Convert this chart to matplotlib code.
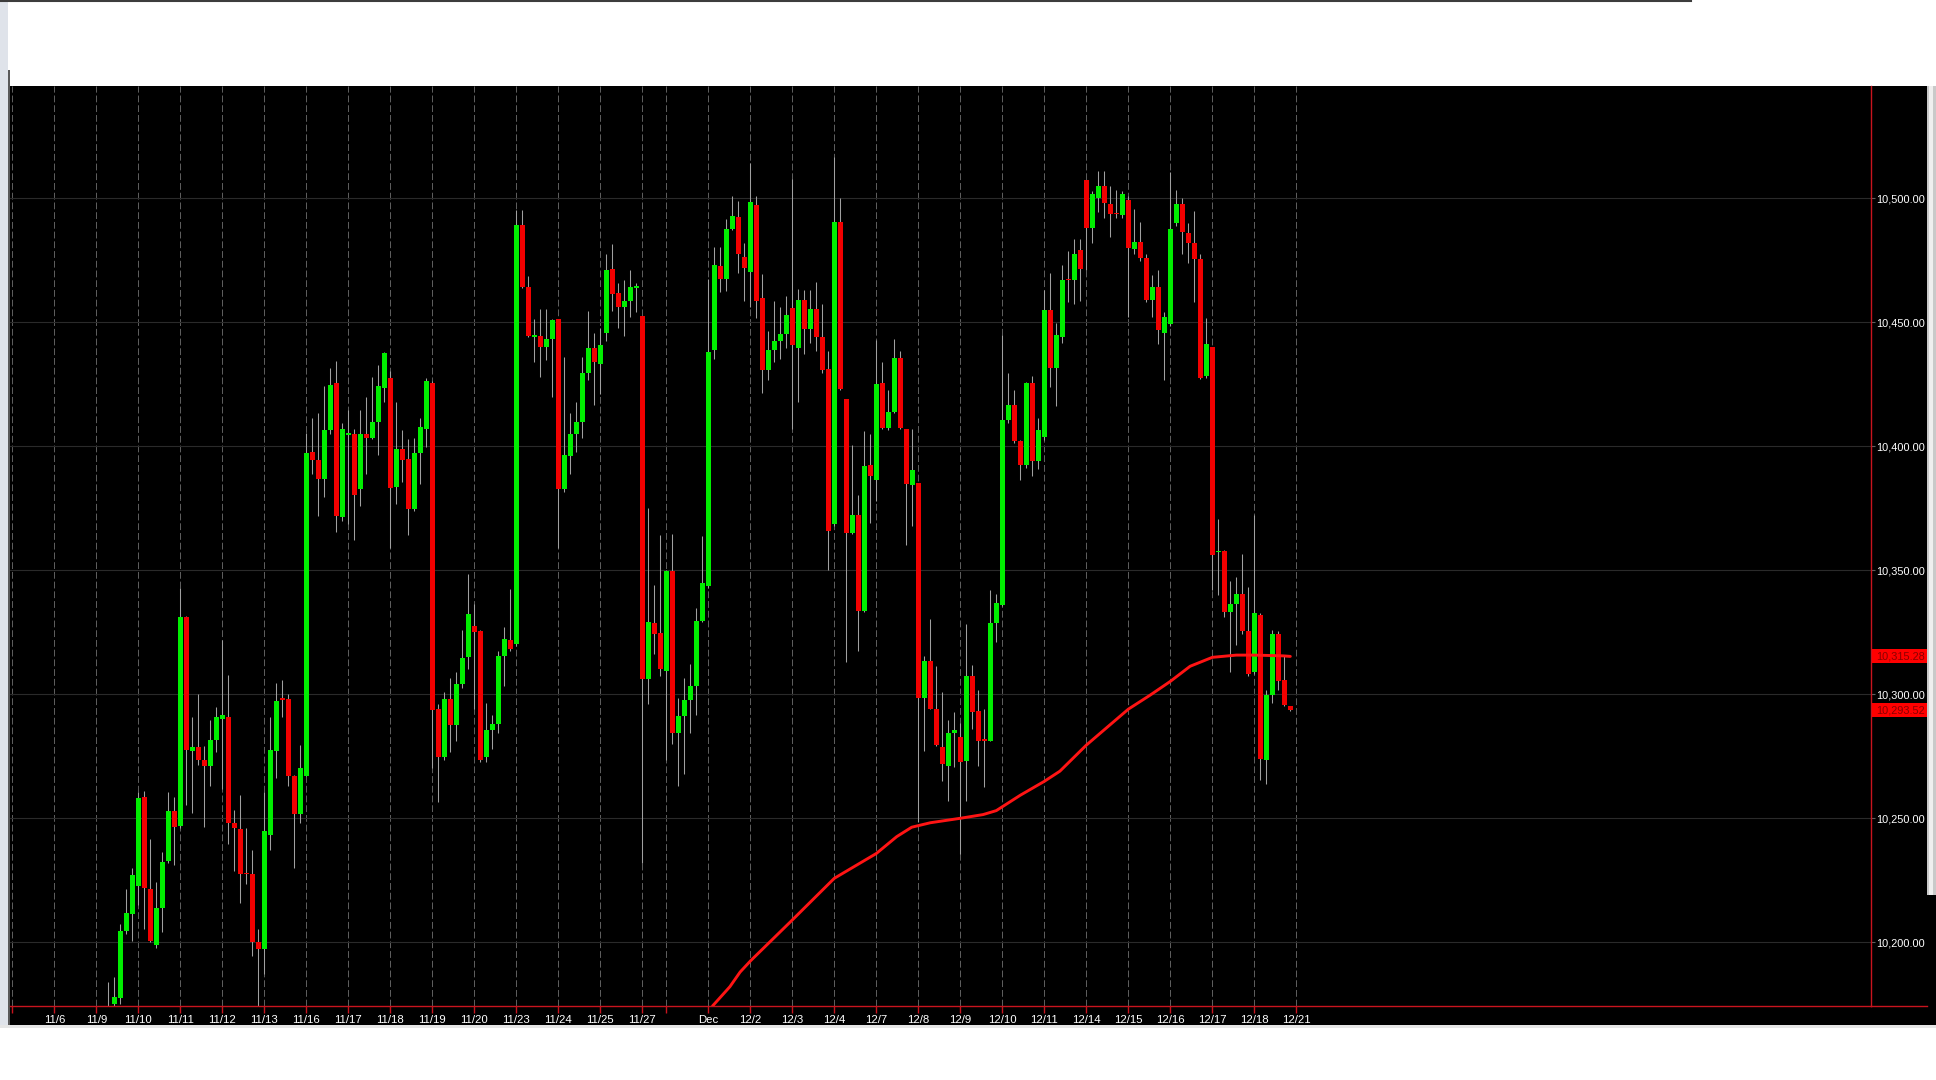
import numpy as np
import matplotlib
matplotlib.use("Agg")
import matplotlib.pyplot as plt
from matplotlib.patches import Rectangle
from matplotlib.lines import Line2D
import matplotlib.transforms as mtransforms

plt.rcParams['font.family'] = ['Liberation Sans', 'DejaVu Sans']

# ---------------- data ----------------
day_labels = ['', '11/6', '11/9', '11/10', '11/11', '11/12', '11/13', '11/16', '11/17', '11/18',
              '11/19', '11/20', '11/23', '11/24', '11/25', '11/27', '', 'Dec', '12/2', '12/3',
              '12/4', '12/7', '12/8', '12/9', '12/10', '12/11', '12/14', '12/15', '12/16',
              '12/17', '12/18', '12/21']
bars_per_day = [7] * 15 + [4] + [7] * 16
first_day, first_bar = 2, 2          # first visible candle: 11/9, 3rd hourly bar

opens = [
    10165, 10175, 10177.6, 10204.7, 10211.3,                                  # 11/9
    10222.8, 10258.7, 10221.3, 10198.9, 10213.9, 10232.6, 10252.9,            # 11/10
    10247, 10331, 10277, 10278.6, 10273.7, 10271, 10281.6,                    # 11/11
    10290, 10291, 10248, 10245.5, 10228, 10227.7, 10200,                      # 11/12
    10197.4, 10243.3, 10277, 10298.5, 10298, 10267.2, 10251.9,                # 11/13
    10267.2, 10397.5, 10394.3, 10387, 10406.5, 10425.7, 10371.5,              # 11/16
    10404.6, 10405, 10382.6, 10405, 10403.3, 10409.7, 10423.6,                # 11/17
    10427.4, 10383.6, 10399, 10394.9, 10374.7, 10397.1, 10407.1,              # 11/18
    10425.7, 10294, 10274.7, 10298.2, 10287.5, 10304, 10315,                  # 11/19
    10327.7, 10325.5, 10274.7, 10285.4, 10288.2, 10315.3, 10322,              # 11/20
    10320.2, 10489.3, 10464.3, 10444.2, 10444.3, 10440.2, 10443.4,            # 11/23
    10451.3, 10382.6, 10396, 10405, 10409.7, 10429.5, 10439.6,                # 11/24
    10433.2, 10445.5, 10471.6, 10462, 10456.2, 10458.4, 10464,                # 11/25
    10452.4, 10306.3, 10328.6, 10324.8,                                       # 11/27
    10309.3, 10349.9, 10284.3, 10291.2, 10297.8, 10303.5, 10329.6,            # 11/30
    10343.7, 10438.7, 10472.9, 10467.5, 10487.8, 10492.6, 10476.5,            # 12/1
    10470.2, 10497.1, 10459.7, 10430.6, 10438.9, 10442.5, 10445.2,            # 12/2
    10455.7, 10439.6, 10459, 10447.4, 10455.2, 10444, 10431,                  # 12/3
    10368.6, 10490.6, 10419, 10365, 10372.4, 10333.7, 10392.5,                # 12/4
    10386.5, 10425.5, 10407.5, 10413.8, 10435.5, 10407, 10384.3,              # 12/7
    10385, 10298.5, 10313.5, 10294, 10278.8, 10271.1, 10284.4,                # 12/8
    10282.9, 10273.1, 10307.5, 10293.2, 10281.4, 10281.3, 10328.7,            # 12/9
    10335.9, 10410.5, 10416.7, 10402.2, 10392.5, 10425.5, 10394.1,            # 12/10
    10403.7, 10454.8, 10431.7, 10444, 10467.2, 10467.1, 10479.2,              # 12/11
    10507.4, 10488.1, 10500, 10504.9, 10497.8, 10493.8, 10493.3,              # 12/14
    10499.3, 10479.4, 10482.5, 10476, 10459, 10464.2, 10445.6,                # 12/15
    10449.2, 10489.9, 10497.8, 10485.9, 10482.1, 10475.4, 10428.4,            # 12/16
    10440.2, 10357.2, 10357.8, 10333.2, 10336.4, 10340.4, 10325.4,            # 12/17
    10309, 10332.1, 10273.6, 10299.6, 10324.3, 10305.9, 10295.2,              # 12/18
]
highs = [
    10184, 10186, 10207.5, 10221.3, 10229.9,
    10260.8, 10261, 10241.6, 10224.5, 10236.3, 10260.8, 10258.7,
    10343, 10331.5, 10290.7, 10300.3, 10279, 10289.7, 10295,
    10321.7, 10307.8, 10253.4, 10259.3, 10245.9, 10237.4, 10205.3,
    10260.8, 10290.7, 10304.6, 10305.6, 10300.3, 10267.5, 10279.4,
    10405.4, 10411.4, 10413.5, 10424.2, 10431.7, 10434.2, 10409.2,
    10414.6, 10407, 10414.6, 10419.9, 10427.8, 10432.7, 10438,
    10430.2, 10417.8, 10406.7, 10402.8, 10403.3, 10411.4, 10427.4,
    10426.3, 10296, 10300.8, 10306.7, 10308.9, 10326, 10348.4,
    10336.6, 10326, 10296.5, 10291.8, 10317.4, 10327, 10342.6,
    10495.1, 10495.1, 10468.6, 10451.5, 10455.2, 10455.2, 10451.5,
    10451.5, 10435.9, 10413.5, 10417.8, 10435.9, 10454.5, 10445.5,
    10447.7, 10477.6, 10481.4, 10465.8, 10466.9, 10471.2, 10465.8,
    10452.5, 10375.1, 10344.1, 10364.4,
    10350, 10364.8, 10298.6, 10306.7, 10312.1, 10334.9, 10364,
    10467.3, 10480.4, 10480.4, 10491.5, 10501.1, 10498.9, 10482.1,
    10514.1, 10501.1, 10469.3, 10446.3, 10458.6, 10456.3, 10460.8,
    10507.8, 10463.5, 10463.1, 10463.1, 10466.4, 10457.5, 10438.4,
    10516.8, 10500, 10419, 10400.4, 10380.2, 10406, 10404.9,
    10442.9, 10434, 10422.8, 10443.4, 10438.4, 10407, 10407,
    10385.2, 10315.3, 10330.5, 10311.3, 10300.8, 10289.6, 10292.9,
    10288.4, 10328.3, 10312, 10301.9, 10294, 10342.2, 10340.4,
    10444.7, 10429.5, 10422.8, 10402.6, 10426.1, 10428.4, 10411.6,
    10463.1, 10469.8, 10449.6, 10473.1, 10478.7, 10483.7, 10483.7,
    10507.4, 10502.9, 10511.2, 10511.2, 10505.1, 10503.4, 10502.9,
    10501.1, 10495.5, 10490.4, 10477.6, 10469.1, 10470.9, 10454.1,
    10510.5, 10503.4, 10500, 10489.9, 10494.9, 10477.6, 10451.9,
    10440.2, 10370.8, 10358, 10345.5, 10347.1, 10356.7, 10343.3,
    10372.4, 10332.8, 10301.9, 10326.1, 10325.4, 10315.3, 10295.3,
]
lows = [
    10160, 10172, 10175, 10203.2, 10200.6,
    10215, 10205.3, 10200, 10197.8, 10204.3, 10232, 10231,
    10246, 10255.5, 10252.3, 10271.5, 10246.5, 10263, 10276.9,
    10261.9, 10239.5, 10228.8, 10216, 10223.5, 10194.6, 10172,
    10187.2, 10237.4, 10266.2, 10290.7, 10263, 10229.9, 10248,
    10267, 10389, 10371.9, 10379.4, 10405, 10365.5, 10370,
    10368.7, 10362.3, 10376.1, 10389, 10402.8, 10396.4, 10417.8,
    10359.1, 10376.8, 10385.8, 10364.4, 10374, 10384.7, 10399.6,
    10270.4, 10256.6, 10273.6, 10276.9, 10281.1, 10302.6, 10310,
    10293.9, 10272.6, 10272.6, 10277.9, 10284.3, 10303.5, 10317.6,
    10319.6, 10463.7, 10443.9, 10433.8, 10428, 10434.9, 10419.9,
    10359.1, 10381.5, 10389, 10397.5, 10403.3, 10426.8, 10416.7,
    10421, 10442.3, 10454.5, 10447.7, 10444.5, 10452, 10454,
    10232, 10296.1, 10316.4, 10307.2,
    10273.7, 10280.1, 10263, 10267.9, 10284.3, 10291.8, 10329,
    10343, 10435.3, 10462.2, 10462.6, 10487.2, 10469.8, 10458.6,
    10456.3, 10451.9, 10421.6, 10426.8, 10434, 10435.1, 10439.6,
    10407.1, 10417.8, 10437.3, 10441.8, 10438.4, 10429.5, 10350,
    10367.9, 10422.8, 10313.1, 10364.6, 10317.6, 10333.2, 10369,
    10378, 10407, 10406.6, 10413.4, 10407, 10360.1, 10367.9,
    10248.6, 10277.3, 10294, 10279, 10265, 10257.1, 10270.5,
    10235.8, 10257.1, 10286.2, 10271, 10262.7, 10281, 10320.9,
    10335.5, 10409.3, 10401.5, 10386.5, 10391.4, 10388.1, 10391,
    10402.6, 10423.9, 10416.1, 10441.8, 10458.1, 10457.5, 10458.6,
    10470.9, 10482.1, 10494.4, 10492.2, 10484.3, 10492.2, 10492.2,
    10452.3, 10477.6, 10474.7, 10458.1, 10452.3, 10441.1, 10426.8,
    10448.5, 10488.8, 10477.6, 10473.8, 10458.1, 10427.2, 10427.7,
    10342.2, 10339.9, 10331, 10309, 10319.8, 10324.3, 10307.5,
    10308.1, 10265.6, 10263.8, 10296.3, 10301.9, 10295.3, 10293.4,
]
closes = [
    10174, 10178, 10204.7, 10211.7, 10227.1,
    10258.1, 10222, 10200.6, 10213.9, 10232.4, 10252.9, 10246.5,
    10331.1, 10277.5, 10278.6, 10273.7, 10270.9, 10281.6, 10291,
    10291.8, 10248, 10245.9, 10227.7, 10227.5, 10200, 10197.4,
    10244.8, 10277.5, 10297.1, 10297.8, 10267.2, 10251.9, 10270.4,
    10397.1, 10394.3, 10386.8, 10406.7, 10424.8, 10371.9, 10407.1,
    10404.9, 10380.4, 10405, 10403.5, 10409.7, 10424.2, 10437.6,
    10383, 10399, 10394.3, 10374.7, 10397.1, 10407.8, 10426.3,
    10293.5, 10274.7, 10298.2, 10287.5, 10304, 10314.7, 10332.4,
    10325.3, 10273.7, 10285.4, 10288.2, 10315.3, 10322.1, 10318.1,
    10489.3, 10464.3, 10444.5, 10444.4, 10440.2, 10443.4, 10450.9,
    10382.6, 10396.4, 10405, 10409.7, 10429.5, 10439.6, 10433.8,
    10440.8, 10471.2, 10461.6, 10456.2, 10458.4, 10464.3, 10464.3,
    10306.3, 10329.2, 10324.3, 10310,
    10349.9, 10284.3, 10291.2, 10297.8, 10303.5, 10329.6, 10344.8,
    10438.1, 10473.3, 10467.5, 10487.8, 10493, 10477.6, 10472,
    10498.4, 10458.6, 10430.6, 10438.9, 10442.5, 10445.2, 10453,
    10440.7, 10459, 10447.4, 10455.2, 10444, 10430.6, 10365.7,
    10490.6, 10423.2, 10365, 10372.4, 10333.7, 10391.9, 10388.1,
    10425, 10407.5, 10413.8, 10435.5, 10407.5, 10384.7, 10390.3,
    10298.5, 10313.5, 10294, 10279.5, 10271.7, 10284.4, 10285.8,
    10272.8, 10307.5, 10292.9, 10281.3, 10281.2, 10328.7, 10337,
    10410.5, 10416.7, 10402.2, 10392.5, 10425.5, 10394.1, 10406.6,
    10454.8, 10431.7, 10444.7, 10467.1, 10467, 10477.6, 10471.6,
    10488.1, 10501.8, 10504.9, 10498.2, 10493.7, 10493.6, 10501.6,
    10479.9, 10482.5, 10475.8, 10459, 10464.2, 10446.7, 10452.3,
    10487.7, 10497.8, 10486.6, 10482.1, 10475.4, 10427.7, 10441.1,
    10356.1, 10357.4, 10333.2, 10336.6, 10340.4, 10325.4, 10308.1,
    10332.8, 10273.9, 10299.6, 10324.3, 10305.2, 10295.6, 10293.52,
]

# moving average: (bars after the Dec 1 open, value)
ma_bars_from_dec1 = [0.7, 3.6, 5.3, 7.07, 14, 21, 28, 31.4, 33.9, 37, 42, 45.8, 48, 52, 56,
                     58.6, 63, 70, 73.6, 77, 80.3, 84, 88, 91, 95.8, 97]
ma_values = [10174.3, 10182.1, 10188.0, 10192.6, 10209, 10225.8, 10235.8, 10242.6, 10246.4,
             10248.2, 10250, 10251.5, 10253.1, 10259.3, 10264.9, 10269.0, 10279.5, 10294,
             10299.6, 10305.2, 10311.3, 10314.9, 10315.8, 10315.8, 10315.5, 10315.28]

price_ticks = [10200, 10250, 10300, 10350, 10400, 10450, 10500]

# ---------------- figure ----------------
W, H = 1936, 1080
fig = plt.figure(figsize=(W / 100, H / 100), dpi=100, facecolor='white')

def px_rect(x0, y0, x1, y1, color, z=0):
    fig.add_artist(Rectangle((x0 / W, 1 - y1 / H), (x1 - x0) / W, (y1 - y0) / H,
                             transform=fig.transFigure, facecolor=color, edgecolor='none',
                             zorder=z))

# window chrome / black panel
px_rect(10, 86, 1927, 1025, 'black', z=-5)
px_rect(0, 0, 8, 1025, '#dfe3ea', z=-5)
px_rect(8, 70, 10, 1025, '#5a5a5a', z=-5)
px_rect(1927, 86, 1936, 895, '#c9c9c9', z=-5)
px_rect(1929, 86, 1933, 895, '#efefef', z=-5)
px_rect(1927, 895, 1936, 1025, 'black', z=-5)
px_rect(0, 1025, 1936, 1028, '#e6e6e6', z=-5)
fig.add_artist(Line2D([0, 1691 / W], [1 - 1 / H, 1 - 1 / H], transform=fig.transFigure,
                      color='#3c3c3c', lw=1.5))

ax = fig.add_axes([10 / W, (H - 1006) / H, 1861 / W, 920 / H])
ax.set_facecolor('black')

day_start = np.concatenate([[0], np.cumsum(bars_per_day)[:-1]])
n = len(opens)
x = day_start[first_day] + first_bar + np.arange(n)
o = np.array(opens); h = np.array(highs); l = np.array(lows); c = np.array(closes)
up = c >= o
body_bottom = np.minimum(o, c)
body_h = np.maximum(np.abs(c - o), 0.6)

ax.vlines(x, l, h, color='#a0a0a0', lw=0.75, zorder=2)
ax.bar(x[up], body_h[up], bottom=body_bottom[up], width=0.74, color='#00ee00',
       linewidth=0, zorder=3)
ax.bar(x[~up], body_h[~up], bottom=body_bottom[~up], width=0.74, color='#f20000',
       linewidth=0, zorder=3)

dec1 = day_start[day_labels.index('Dec')]
ax.plot(dec1 + np.array(ma_bars_from_dec1), ma_values, color='#ff1414', lw=2.1,
        zorder=4, solid_capstyle='round', solid_joinstyle='round')

# axes limits (0 = 11/5 open)
ax.set_xlim(-0.383, 309.78)
ax.set_ylim(10174.31, 10545.28)

# x axis
ax.set_xticks(day_start)
ax.set_xticklabels(day_labels)
ax.tick_params(axis='x', direction='out', length=5, width=1, color='#c8141e',
               labelcolor='white', labelsize=8.2, pad=1.2)
ax.grid(axis='x', color='#616161', lw=0.7, linestyle=(0, (7, 3)), zorder=1)

# y axis on the right
ax.yaxis.tick_right()
ax.set_yticks(price_ticks)
ax.set_yticklabels([f'{v:,.2f}' for v in price_ticks])
ax.tick_params(axis='y', direction='out', length=3, width=0.8, color='#606060',
               labelcolor='white', labelsize=7.9, pad=1)
ax.grid(axis='y', color='#2a2a2a', lw=0.8, linestyle='-', zorder=1)
ax.set_axisbelow(True)

for s in ['top', 'left']:
    ax.spines[s].set_visible(False)
for s in ['right', 'bottom']:
    ax.spines[s].set_color('#c8141e')
    ax.spines[s].set_linewidth(1.0)
fig.add_artist(Line2D([1871 / W, 1927 / W], [(H - 1006) / H, (H - 1006) / H],
                      transform=fig.transFigure, color='#c8141e', lw=1.0))

# value flags on the price axis
trans = mtransforms.blended_transform_factory(ax.transAxes, ax.transData)
box_w = 55 / 1861
box_h = 14 / 2.48
for val in [ma_values[-1], closes[-1]]:
    ax.add_patch(Rectangle((1.0005, val - box_h / 2), box_w, box_h, transform=trans,
                           facecolor='#ff0000', edgecolor='none', clip_on=False, zorder=5))
    ax.text(1 + 5 / 1861, val, f'{val:,.2f}', transform=trans, ha='left', va='center',
            color='#8a0000', fontsize=7.9, clip_on=False, zorder=6)

fig.savefig('out.png', dpi=100, facecolor='white')
